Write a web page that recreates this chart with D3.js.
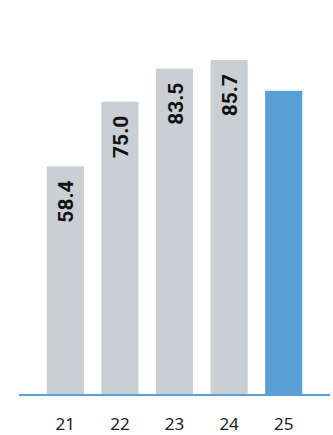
<!DOCTYPE html>
<html>
<head>
<meta charset="utf-8">
<script src="https://cdn.jsdelivr.net/npm/d3@7"></script>
<style>
  html, body { margin: 0; padding: 0; background: #fff; }
  svg { display: block; }
</style>
</head>
<body>
<svg id="chart" width="333" height="435"></svg>
<script>
// Yearly values; the latest year is highlighted and left unlabelled
const years = ["21", "22", "23", "24", "25"];
const values = [58.4, 75.0, 83.5, 85.7, 77.8];
const labels = ["58.4", "75.0", "83.5", "85.7", ""];

const svg = d3.select("#chart");
const baseY = 394;

const x = d3.scaleBand()
  .domain(years)
  .range([38, 311])
  .paddingInner(0.32)
  .paddingOuter(0.16);

const y = d3.scaleLinear()
  .domain([0, 85.7])
  .range([baseY, 60]);

const colour = (d, i) => i === years.length - 1 ? "#589fd4" : "#cacfd3";

svg.append("g")
  .selectAll("rect")
  .data(values)
  .join("rect")
  .attr("x", (d, i) => x(years[i]))
  .attr("y", d => y(d))
  .attr("width", x.bandwidth())
  .attr("height", d => baseY - y(d))
  .attr("fill", colour);

// Value labels, rotated, inside the top of each bar
svg.append("g")
  .selectAll("text")
  .data(values)
  .join("text")
  .attr("transform", (d, i) =>
    `translate(${x(years[i]) + x.bandwidth() / 2 + 8},${y(d) + 14}) rotate(-90)`)
  .attr("text-anchor", "end")
  .attr("font-family", "Roboto, 'Liberation Sans', sans-serif")
  .attr("font-weight", "bold")
  .attr("font-size", "21px")
  .attr("fill", "#111")
  .text((d, i) => labels[i]);

// Baseline axis
const axis = d3.axisBottom(x).tickSize(0).tickPadding(0);
const ax = svg.append("g")
  .attr("transform", `translate(0,${baseY})`)
  .call(axis);
ax.select(".domain").remove();
ax.selectAll("text")
  .attr("y", 36)
  .attr("dy", 0)
  .attr("font-family", "'Noto Sans', 'Open Sans', sans-serif")
  .attr("font-size", "17px")
  .attr("fill", "#222");

svg.append("line")
  .attr("x1", 19).attr("x2", 330)
  .attr("y1", baseY + 1).attr("y2", baseY + 1)
  .attr("stroke", "#5a9fd4")
  .attr("stroke-width", 2);
</script>
</body>
</html>
